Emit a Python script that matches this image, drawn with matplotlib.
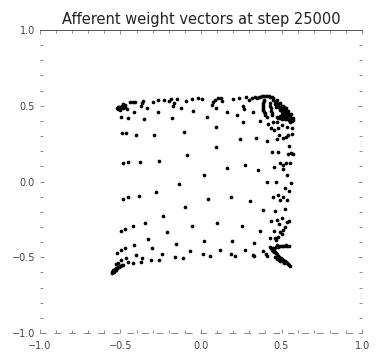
import numpy as np
import matplotlib
matplotlib.use("Agg")
import matplotlib.pyplot as plt
from matplotlib.ticker import MultipleLocator

# Afferent weight vectors (x, y) of the map units at step 25000
wx = [
    # upper-left region
    -0.52, -0.507, -0.493, -0.483, -0.472, -0.503, -0.513, -0.486, -0.462,
    -0.441, -0.42, -0.41, -0.368, -0.358, -0.375, -0.333, -0.296, -0.265,
    -0.228, -0.199, -0.188, -0.176, -0.168, -0.147, -0.124, -0.093, -0.058,
    -0.017, -0.416, -0.499, -0.451, -0.354, -0.269, -0.182, -0.052, -0.493,
    -0.466, -0.406, -0.29, -0.106, -0.085, -0.486, -0.451, -0.379, -0.259,
    -0.137,
    -0.50, -0.49, -0.515, -0.48, -0.47,
    # upper-right region
    0.004, 0.035, 0.066, 0.077, 0.087, 0.093, 0.108, 0.122, 0.128, 0.159,
    0.197, 0.222, 0.238, 0.263, 0.267, 0.277, 0.30, 0.315, 0.325, 0.335,
    0.346, 0.366, 0.387, 0.408, 0.429, 0.449, 0.47, 0.491, 0.511, 0.528,
    0.542, 0.557, 0.569, 0.573,
    0.48, 0.501, 0.522, 0.536, 0.511, 0.491, 0.466, 0.549, 0.528, 0.501,
    0.391, 0.387, 0.383, 0.387, 0.398, 0.408, 0.429, 0.433, 0.439,
    0.47, 0.491, 0.522, 0.549, 0.563,
    0.47, 0.48, 0.50, 0.51, 0.52, 0.53, 0.54, 0.55, 0.52, 0.51,
    0.49, 0.46, 0.45, 0.44, 0.42, 0.40, 0.38, 0.36, 0.56, 0.565,
    0.54, 0.53, 0.50, 0.495, 0.515, 0.53, 0.545, 0.48, 0.47, 0.46,
    0.39, 0.385, 0.385, 0.39, 0.40, 0.43, 0.435, 0.44, 0.48, 0.50,
    0.56,
    0.093, 0.259, 0.366, 0.418, 0.433, 0.449, 0.474, 0.453, 0.48, 0.501,
    0.536, 0.553, 0.563, 0.242, 0.342, 0.408, 0.47, 0.487, 0.507, 0.528,
    0.542, 0.563, 0.093, 0.439, 0.48, 0.549, 0.542, 0.557, 0.569, 0.159,
    0.273, 0.356, 0.453, 0.491, 0.511, 0.528, 0.553, 0.507, 0.019, 0.536,
    0.408, 0.466, 0.557,
    # lower-left region
    -0.486, -0.451, -0.385, -0.281, -0.099, -0.234, -0.346, -0.499, -0.473,
    -0.424, -0.058, -0.209, -0.327, -0.416, -0.155, -0.473, -0.499, -0.52,
    -0.302, -0.404, -0.244, -0.161, -0.114, -0.068, -0.466, -0.368, -0.312,
    -0.259, -0.499, -0.451, -0.42, -0.375, -0.483, -0.528, -0.513,
    -0.555, -0.545, -0.534, -0.524, -0.513, -0.503, -0.493, -0.549, -0.528,
    -0.55, -0.54, -0.53, -0.52, -0.51, -0.50, -0.545, -0.535, -0.54, -0.525,
    # lower-right region
    0.046, 0.186, 0.304, 0.445, 0.48, 0.511, 0.491, 0.536, 0.522, 0.549,
    0.387, 0.46, 0.522, 0.101, 0.253, 0.366, 0.433, 0.47, 0.501, 0.487,
    0.536, 0.522, 0.549, 0.453, 0.491, 0.511, 0.019, 0.19, 0.329, 0.429,
    0.46, 0.48, 0.466, 0.501, 0.014, 0.056, 0.118, 0.184, 0.211, 0.273,
    0.321, 0.329, 0.383, 0.404, 0.412,
    0.429, 0.439, 0.453, 0.466, 0.48, 0.495, 0.511, 0.528, 0.542, 0.553,
    0.46, 0.474, 0.491, 0.48, 0.501, 0.522, 0.536, 0.47, 0.449,
    0.435, 0.445, 0.458, 0.472, 0.487, 0.503, 0.519, 0.535, 0.548, 0.47,
    0.485, 0.50, 0.515, 0.49, 0.51, 0.53, 0.545, 0.465, 0.455,
]
wy = [
    0.483, 0.494, 0.50, 0.487, 0.505, 0.472, 0.478, 0.509, 0.478,
    0.523, 0.527, 0.523, 0.516, 0.531, 0.50, 0.483, 0.527, 0.536,
    0.538, 0.534, 0.545, 0.50, 0.516, 0.545, 0.483, 0.531, 0.545,
    0.553, 0.461, 0.428, 0.417, 0.41, 0.461, 0.417, 0.465, 0.318,
    0.322, 0.307, 0.307, 0.329, 0.175, 0.12, 0.131, 0.127, 0.135,
    -0.019,
    0.49, 0.49, 0.49, 0.50, 0.49,
    0.545, 0.428, 0.505, 0.527, 0.538, 0.487, 0.549, 0.553, 0.531, 0.461,
    0.545, 0.439, 0.553, 0.50, 0.478, 0.56, 0.538, 0.549, 0.461, 0.56,
    0.553, 0.56, 0.567, 0.567, 0.56, 0.549, 0.538, 0.516, 0.50, 0.483,
    0.465, 0.443, 0.421, 0.406,
    0.505, 0.483, 0.461, 0.439, 0.45, 0.472, 0.494, 0.428, 0.428, 0.439,
    0.538, 0.516, 0.494, 0.472, 0.45, 0.428, 0.516, 0.483, 0.45,
    0.428, 0.417, 0.412, 0.406, 0.399,
    0.52, 0.49, 0.50, 0.47, 0.48, 0.45, 0.45, 0.43, 0.43, 0.42,
    0.43, 0.53, 0.54, 0.555, 0.565, 0.565, 0.565, 0.56, 0.42, 0.41,
    0.41, 0.41, 0.46, 0.49, 0.49, 0.47, 0.44, 0.51, 0.50, 0.51,
    0.53, 0.505, 0.48, 0.46, 0.44, 0.50, 0.465, 0.44, 0.42, 0.415,
    0.40,
    0.362, 0.391, 0.40, 0.378, 0.351, 0.391, 0.391, 0.34, 0.351, 0.373,
    0.362, 0.395, 0.351, 0.279, 0.289, 0.267, 0.28, 0.307, 0.289, 0.296,
    0.307, 0.311, 0.23, 0.197, 0.197, 0.236, 0.18, 0.186, 0.18, 0.091,
    0.109, 0.076, 0.098, 0.12, 0.109, 0.12, 0.12, 0.083, 0.043, 0.043,
    -0.001, -0.006, -0.012,
    -0.118, -0.104, -0.096, -0.071, -0.166, -0.226, -0.272, -0.327, -0.314,
    -0.296, -0.292, -0.336, -0.38, -0.419, -0.413, -0.441, -0.454, -0.472,
    -0.441, -0.485, -0.481, -0.496, -0.503, -0.459, -0.507, -0.507, -0.516,
    -0.516, -0.518, -0.533, -0.54, -0.533, -0.551, -0.545, -0.54,
    -0.606, -0.595, -0.584, -0.573, -0.566, -0.56, -0.551, -0.591, -0.569,
    -0.60, -0.59, -0.58, -0.57, -0.563, -0.555, -0.585, -0.575, -0.60, -0.585,
    -0.116, -0.104, -0.129, -0.10, -0.089, -0.10, -0.122, -0.122, -0.041, -0.063,
    -0.188, -0.195, -0.182, -0.276, -0.292, -0.327, -0.261, -0.254, -0.243, -0.283,
    -0.27, -0.298, -0.261, -0.327, -0.331, -0.32, -0.393, -0.393, -0.408, -0.371,
    -0.375, -0.364, -0.386, -0.349, -0.481, -0.492, -0.452, -0.481, -0.492, -0.452,
    -0.485, -0.492, -0.457, -0.481, -0.492,
    -0.43, -0.452, -0.463, -0.474, -0.49, -0.503, -0.518, -0.533, -0.547, -0.556,
    -0.496, -0.511, -0.525, -0.43, -0.425, -0.423, -0.423, -0.419, -0.441,
    -0.44, -0.457, -0.468, -0.48, -0.497, -0.51, -0.525, -0.54, -0.552, -0.50,
    -0.515, -0.525, -0.535, -0.424, -0.424, -0.422, -0.425, -0.43, -0.445,
]

tick_vals = [-1.0, -0.5, 0.0, 0.5, 1.0]
tick_text = ["\u22121.0", "\u22120.5", "0.0", "0.5", "1.0"]
title = "Afferent weight vectors at step 25000"

fig = plt.figure(figsize=(3.76, 3.62), dpi=100)
ax = fig.add_axes([0.106, 0.080, 0.857, 0.837])
ax.scatter(wx, wy, s=7, c="black", marker="o", linewidths=0)

ax.set_xlim(-1, 1)
ax.set_ylim(-1, 1)
ax.set_xticks(tick_vals)
ax.set_xticklabels(tick_text)
ax.set_yticks(tick_vals)
ax.set_yticklabels(tick_text)
ax.xaxis.set_minor_locator(MultipleLocator(0.1))
ax.yaxis.set_minor_locator(MultipleLocator(0.1))

ax.tick_params(which="both", direction="in", colors="#777777", labelcolor="#444444",
               labelsize=7, top=True, right=True, width=0.6)
ax.tick_params(which="major", length=3)
ax.tick_params(which="minor", length=2)
ax.tick_params(axis="x", pad=6)

for side in ("left", "right"):
    ax.spines[side].set_visible(False)
ax.spines["top"].set_color("#555555")
ax.spines["top"].set_linewidth(0.7)
ax.spines["bottom"].set_color("#888888")
ax.spines["bottom"].set_linewidth(0.7)
ax.spines["bottom"].set_linestyle((0, (6, 9)))

ax.set_title(title, fontsize=10.5, color="#222222", pad=4)

fig.savefig("out.png", dpi=100)
